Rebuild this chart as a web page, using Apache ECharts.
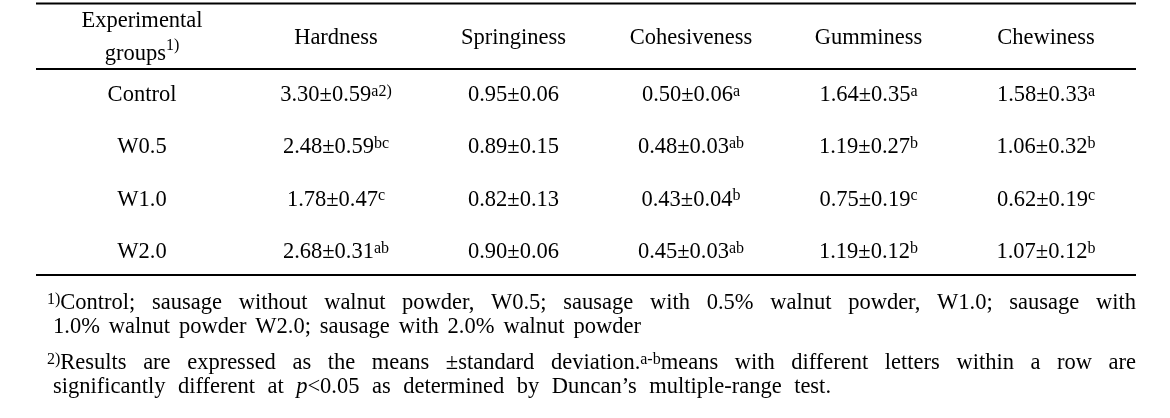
<!DOCTYPE html>
<html><head><meta charset="utf-8">
<script src="https://cdn.jsdelivr.net/npm/echarts@6/dist/echarts.min.js"></script>
<style>html,body{margin:0;padding:0;background:#fff}#c{width:1170px;height:418px}</style>
</head><body><div id="c"></div>
<script>
// ---------- data ----------
const groups = ['Control', 'W0.5', 'W1.0', 'W2.0'];
const attributes = ['Hardness', 'Springiness', 'Cohesiveness', 'Gumminess', 'Chewiness'];
const groupHeader = 'Experimental groups';
const groupHeaderNote = '1)';

const hardnessMean = [3.30, 2.48, 1.78, 2.68];
const hardnessSD   = [0.59, 0.59, 0.47, 0.31];
const hardnessSig  = ['a', 'bc', 'c', 'ab'];
const hardnessNote = ['2)', '', '', ''];

const springinessMean = [0.95, 0.89, 0.82, 0.90];
const springinessSD   = [0.06, 0.15, 0.13, 0.06];
const springinessSig  = ['', '', '', ''];

const cohesivenessMean = [0.50, 0.48, 0.43, 0.45];
const cohesivenessSD   = [0.06, 0.03, 0.04, 0.03];
const cohesivenessSig  = ['a', 'ab', 'b', 'ab'];

const gumminessMean = [1.64, 1.19, 0.75, 1.19];
const gumminessSD   = [0.35, 0.27, 0.19, 0.12];
const gumminessSig  = ['a', 'b', 'c', 'b'];

const chewinessMean = [1.58, 1.06, 0.62, 1.07];
const chewinessSD   = [0.33, 0.32, 0.19, 0.12];
const chewinessSig  = ['a', 'b', 'c', 'b'];

// footnote lines ([s:..] = superscript, [i:..] = italic)
const footnoteLine1 = '[s:1)]Control; sausage without walnut powder, W0.5; sausage with 0.5% walnut powder, W1.0; sausage with';
const footnoteLine2 = '1.0% walnut powder W2.0; sausage with 2.0% walnut powder';
const footnoteLine3 = '[s:2)]Results are expressed as the means ±standard deviation.[s:a-b]means with different letters within a row are';
const footnoteLine4 = 'significantly different at [i:p]<0.05 as determined by Duncan’s multiple-range test.';

// ---------- styles ----------
const FONT = '"Liberation Serif", "Times New Roman", serif';
const FS = 22.5, SUP = 16, INK = '#000';
const rich = {
  v:   {fontFamily: FONT, fontSize: FS, lineHeight: 23, color: INK, align: 'center'},
  s:   {fontFamily: FONT, fontSize: SUP, lineHeight: SUP, verticalAlign: 'top', color: INK, align: 'center'},
  i:   {fontFamily: FONT, fontSize: FS, lineHeight: 23, fontStyle: 'italic', color: INK, align: 'center'},
  h:   {fontFamily: FONT, fontSize: FS, lineHeight: 33, color: INK, align: 'center'},
  pad: {width: 33, fontSize: FS, lineHeight: 33, align: 'center'}
};

const stats = [
  {mean: hardnessMean, sd: hardnessSD, sig: hardnessSig, note: hardnessNote},
  {mean: springinessMean, sd: springinessSD, sig: springinessSig},
  {mean: cohesivenessMean, sd: cohesivenessSD, sig: cohesivenessSig},
  {mean: gumminessMean, sd: gumminessSD, sig: gumminessSig},
  {mean: chewinessMean, sd: chewinessSD, sig: chewinessSig}
];

const cellData = [];
stats.forEach((st, c) => {
  groups.forEach((g, r) => {
    const sup = (st.sig[r] || '') + (st.note ? st.note[r] : '');
    cellData.push({
      value: [c + 1, r],
      text: '{v|' + st.mean[r].toFixed(2) + '±' + st.sd[r].toFixed(2) + '}' + (sup ? '{s|' + sup + '}' : '')
    });
  });
});
const rowLabelData = groups.map((g, r) => ({value: [0, r], text: '{v|' + g + '}'}));

// ---------- footnote layout helpers ----------
const mctx = document.createElement('canvas').getContext('2d');
function parseWord(w) {
  const toks = [];
  const re = /\[(s|i):([^\]]*)\]/g;
  let last = 0, m;
  while ((m = re.exec(w))) {
    if (m.index > last) toks.push({t: 'v', s: w.slice(last, m.index)});
    toks.push({t: m[1], s: m[2]});
    last = re.lastIndex;
  }
  if (last < w.length) toks.push({t: 'v', s: w.slice(last)});
  return toks;
}
function tokWidth(tok) {
  const sz = tok.t === 's' ? SUP : FS;
  mctx.font = (tok.t === 'i' ? 'italic ' : '') + sz + 'px ' + FONT;
  return mctx.measureText(tok.s).width;
}
function footnoteGraphics(line, x0, x1, baseline) {
  const words = line.split(' ').map(parseWord);
  const widths = words.map(ts => ts.reduce((a, t) => a + tokWidth(t), 0));
  const total = widths.reduce((a, b) => a + b, 0);
  const gap = (x1 - x0 - total) / (words.length - 1);
  let x = x0;
  return words.map((ts, k) => {
    const el = {
      type: 'text', x: x, y: baseline - 7.7, silent: true,
      style: {
        text: ts.map(t => '{' + t.t + '|' + t.s + '}').join(''),
        rich: {
          v: {fontFamily: FONT, fontSize: FS, lineHeight: 23, fill: INK},
          s: {fontFamily: FONT, fontSize: SUP, lineHeight: SUP, verticalAlign: 'top', fill: INK},
          i: {fontFamily: FONT, fontSize: FS, lineHeight: 23, fontStyle: 'italic', fill: INK}
        },
        align: 'left', verticalAlign: 'middle'
      }
    };
    x += widths[k] + gap;
    return el;
  });
}

function rule(y) {
  return {type: 'line', silent: true, shape: {x1: 36, y1: y, x2: 1136, y2: y}, style: {stroke: INK, lineWidth: 2}};
}

const cellLabel = {
  show: true, position: 'inside', color: INK, opacity: 1,
  textBorderWidth: 0, textBorderColor: 'transparent', textShadowBlur: 0,
  rich: rich, formatter: p => p.data.text
};

const chart = echarts.init(document.getElementById('c'), null, {renderer: 'canvas'});
chart.setOption({
  animation: false,
  backgroundColor: '#fff',
  grid: {left: 69.75, right: 35.25, top: 69, bottom: 140},
  xAxis: {
    type: 'category', position: 'top',
    data: [groupHeader].concat(attributes),
    axisLine: {show: false}, axisTick: {show: false}, splitLine: {show: false},
    axisLabel: {
      interval: 0, margin: 31, verticalAlign: 'middle', color: INK, rich: rich,
      formatter: (val, idx) => idx === 0
        ? '{h|Experimental}{pad| }\n{h|groups}{s|' + groupHeaderNote + '}{pad| }'
        : '{h|' + val + '}'
    }
  },
  yAxis: {
    type: 'category', inverse: true, data: groups, show: false
  },
  series: [
    {
      type: 'scatter', data: rowLabelData, symbolSize: 0, itemStyle: {color: INK},
      silent: true,
      label: Object.assign({}, cellLabel, {offset: [-16.5, 0]})
    },
    {
      type: 'scatter', data: cellData, symbolSize: 0, itemStyle: {color: INK},
      silent: true,
      label: cellLabel
    }
  ],
  graphic: [rule(3.5), rule(69), rule(275)]
    .concat(footnoteGraphics(footnoteLine1, 47, 1136, 310.7))
    .concat(footnoteGraphics(footnoteLine2, 53, 641, 334.7))
    .concat(footnoteGraphics(footnoteLine3, 47, 1136, 371))
    .concat(footnoteGraphics(footnoteLine4, 53, 831, 395))
});
</script></body></html>
